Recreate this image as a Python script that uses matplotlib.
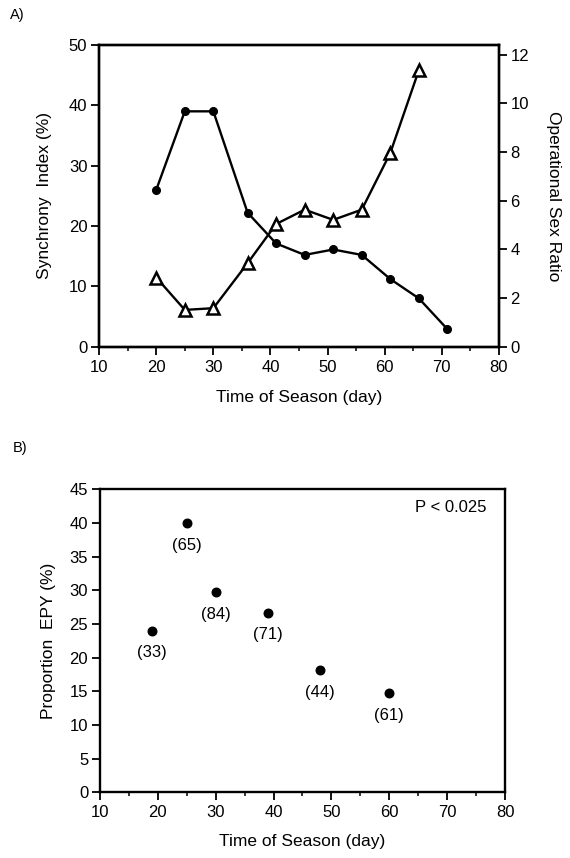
import numpy as np
import matplotlib
matplotlib.use("Agg")
import matplotlib.pyplot as plt
from matplotlib.ticker import MultipleLocator

plt.rcParams['font.family'] = ['Liberation Sans', 'DejaVu Sans']

# -------------------------------------------------
# Panel A: synchrony index and operational sex ratio
# -------------------------------------------------
day_sync = [20, 25, 30, 36, 41, 46, 51, 56, 61, 66, 71]
synchrony = [26, 39, 39, 22.2, 17.1, 15.2, 16.1, 15.2, 11.2, 8.0, 2.9]

day_osr = [20, 25, 30, 36, 41, 46, 51, 56, 61, 66]
osr = [2.84, 1.51, 1.58, 3.43, 5.04, 5.63, 5.21, 5.63, 7.96, 11.36]

# -------------------------------------------------
# Panel B: proportion of extra-pair young
# -------------------------------------------------
day_epy = [19, 25, 30, 39, 48, 60]
epy = [24.0, 40.0, 29.7, 26.7, 18.1, 14.7]
n_broods = ["(33)", "(65)", "(84)", "(71)", "(44)", "(61)"]

TICK_FS = 12
LAB_FS = 12.5
LW = 1.7


def style_axis(ax):
    for s in ax.spines.values():
        s.set_linewidth(LW)
    ax.tick_params(which="major", direction="out", length=6, width=1.3,
                   labelsize=TICK_FS, pad=2.5)
    ax.tick_params(which="minor", direction="out", length=3, width=1.1)


fig = plt.figure(figsize=(5.7, 8.58), dpi=100)

# panel A
axA = fig.add_axes([0.174, 0.596, 0.701, 0.3516])
axA.plot(day_sync, synchrony, color="black", lw=1.7, marker="o",
         markersize=5.5, zorder=3)
axA.set_xlim(10, 80)
axA.set_ylim(0, 50)
axA.xaxis.set_major_locator(MultipleLocator(10))
axA.xaxis.set_minor_locator(MultipleLocator(5))
axA.yaxis.set_major_locator(MultipleLocator(10))
style_axis(axA)
axA.tick_params(axis="x", which="major", pad=3.5)
axA.set_xlabel("Time of Season (day)", fontsize=LAB_FS, labelpad=11)
axA.set_ylabel("Synchrony  Index (%)", fontsize=LAB_FS, labelpad=12)

axA2 = axA.twinx()
axA2.plot(day_osr, osr, color="black", lw=1.7, marker="^", markersize=9,
          markerfacecolor="white", markeredgewidth=1.8, zorder=3)
axA2.set_ylim(0, 12.4)
axA2.yaxis.set_major_locator(MultipleLocator(2))
style_axis(axA2)
axA2.set_ylabel("Operational Sex Ratio", fontsize=LAB_FS, rotation=-90,
                labelpad=23)

fig.text(0.018, 0.983, "A)", fontsize=10.5, ha="left", va="center")

# panel B
axB = fig.add_axes([0.1754, 0.0766, 0.7106, 0.3531])
axB.scatter(day_epy, epy, s=38, color="black", zorder=3)
for x, y, lab in zip(day_epy, epy, n_broods):
    axB.annotate(lab, (x, y), xytext=(0, -16), textcoords="offset points",
                 ha="center", va="center", fontsize=TICK_FS)
axB.set_xlim(10, 80)
axB.set_ylim(0, 45)
axB.xaxis.set_major_locator(MultipleLocator(10))
axB.xaxis.set_minor_locator(MultipleLocator(5))
axB.yaxis.set_major_locator(MultipleLocator(5))
style_axis(axB)
axB.tick_params(axis="x", which="major", pad=3.5)
axB.set_xlabel("Time of Season (day)", fontsize=LAB_FS, labelpad=10)
axB.set_ylabel("Proportion  EPY (%)", fontsize=LAB_FS, labelpad=10)
axB.text(0.955, 0.94, "P < 0.025", transform=axB.transAxes, ha="right",
         va="center", fontsize=TICK_FS)

fig.text(0.022, 0.478, "B)", fontsize=10.5, ha="left", va="center")

fig.savefig("out.png", dpi=100)
